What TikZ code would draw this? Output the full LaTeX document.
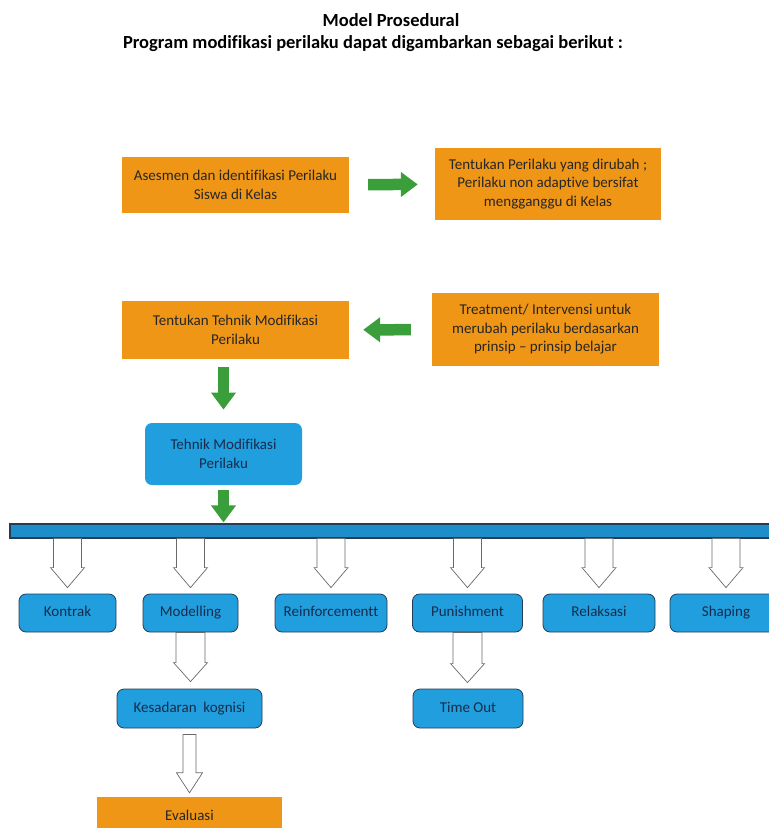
\documentclass[tikz,border=0pt]{standalone}
\usepackage{fontspec}
\setmainfont{Carlito}[Ligatures=NoCommon]
\usetikzlibrary{arrows.meta,calc}

\definecolor{boxorange}{RGB}{240,150,22}
\definecolor{boxblue}{RGB}{32,158,222}
\definecolor{barblue}{RGB}{30,142,202}
\definecolor{boxborder}{RGB}{38,60,84}
\definecolor{boxtext}{RGB}{24,44,74}
\definecolor{arrowgreen}{RGB}{58,158,58}
\definecolor{arrowgray}{RGB}{105,105,105}

\begin{document}
\begin{tikzpicture}[
  x=1pt,y=-1pt,
  title/.style={font=\fontsize{18.5}{22}\selectfont\bfseries},
  orangebox/.style={fill=boxorange,text=black!85,align=center,inner sep=0pt,
    font=\fontsize{15}{18.5}\selectfont},
  bluebox/.style={draw=boxborder,line width=0.8pt,fill=boxblue,rounded corners=7pt,
    text=boxtext,align=center,inner sep=0pt,minimum height=38pt,
    font=\fontsize{15}{18.5}\selectfont},
  tab/.style={bluebox,text height=10.5pt,text depth=3.5pt},
  greenarrow/.style={draw=arrowgreen,line width=11.5pt,-{Triangle[width=24pt,length=17pt]}},
  hollow/.style n args={3}{draw=arrowgray,fill=white,line width=0.7pt,
    to path={let \p1=(\tikztostart), \p2=(\tikztotarget) in
      (\x1-#1,\y1) -- (\x1-#1,\y2+#3) -- (\x1-#2,\y2+#3) -- (\x1,\y2)
      -- (\x1+#2,\y2+#3) -- (\x1+#1,\y2+#3) -- (\x1+#1,\y1) -- cycle}}
]
  \useasboundingbox (0,0) rectangle (769,828);

  \node[title] (heading) at (391,20) {Model Prosedural};
  \node[title] (subheading) at (373,44) {Program modifikasi perilaku dapat digambarkan sebagai berikut :};

  \node[orangebox,minimum width=227pt,minimum height=56pt] (asesmen) at (235.5,185)
    {Asesmen dan identifikasi Perilaku\\Siswa di Kelas};
  \node[orangebox,minimum width=226pt,minimum height=72pt] (tentukan) at (548,184)
    {Tentukan Perilaku yang dirubah ;\\Perilaku non adaptive bersifat\\mengganggu di Kelas};
  \node[orangebox,minimum width=227pt,minimum height=73pt] (treatment) at (545.5,329.5)
    {Treatment/ Intervensi untuk\\merubah perilaku berdasarkan\\prinsip -- prinsip belajar};
  \node[orangebox,minimum width=227pt,minimum height=58pt] (tehnikpilih) at (235.5,330)
    {Tentukan Tehnik Modifikasi\\Perilaku};
  \node[bluebox,draw=none,minimum width=157pt,minimum height=62pt] (tehnik) at (223.5,454)
    {Tehnik Modifikasi\\Perilaku};

  \node[draw=boxborder,line width=1.2pt,fill=barblue,minimum width=764pt,minimum height=14pt,
    inner sep=0pt] (bar) at (392,531) {};

  \node[tab,minimum width=97pt] (kontrak) at (67.5,613) {Kontrak};
  \node[tab,minimum width=95pt] (modelling) at (190.5,613) {Modelling};
  \node[tab,minimum width=112pt] (reinforcement) at (331,613) {Reinforcementt};
  \node[tab,minimum width=110pt] (punishment) at (467.5,613) {Punishment};
  \node[tab,minimum width=112pt] (relaksasi) at (599,613) {Relaksasi};
  \node[tab,minimum width=112pt] (shaping) at (726,613) {Shaping};

  \node[tab,minimum width=145pt,minimum height=39pt] (kesadaran) at (189.5,708.5) {Kesadaran\ \ kognisi};
  \node[tab,minimum width=110pt,minimum height=39pt] (timeout) at (468,708.5) {Time Out};
  \node[orangebox,minimum width=185pt,minimum height=36pt] (evaluasi) at (189.5,815) {Evaluasi};

  \draw[greenarrow,shorten <=19pt,shorten >=17pt] (asesmen) -- (tentukan);
  \draw[greenarrow,shorten <=21pt,shorten >=14pt] (treatment) -- (tehnikpilih);
  \draw[greenarrow,shorten <=8pt,shorten >=13pt] (tehnikpilih.south -| tehnik) -- (tehnik.north);
  \draw[greenarrow,shorten <=5pt,shorten >=1pt] (tehnik.south) -- (tehnik.south |- bar.north);

  \foreach \n in {kontrak,modelling,reinforcement,punishment,relaksasi,shaping}
    \draw[hollow={14pt}{17pt}{20pt}] (bar.south -| \n) to ([yshift=6pt]\n.north);
  \draw[hollow={14.5pt}{17pt}{19pt}] (modelling.south) to ([yshift=7pt]kesadaran.north);
  \draw[hollow={14.5pt}{17pt}{19pt}] (punishment.south) to ([yshift=6pt]timeout.north);
  \draw[hollow={6.5pt}{13pt}{20pt}] ([yshift=-6pt]kesadaran.south) to ([yshift=4pt]evaluasi.north);
\end{tikzpicture}
\end{document}
